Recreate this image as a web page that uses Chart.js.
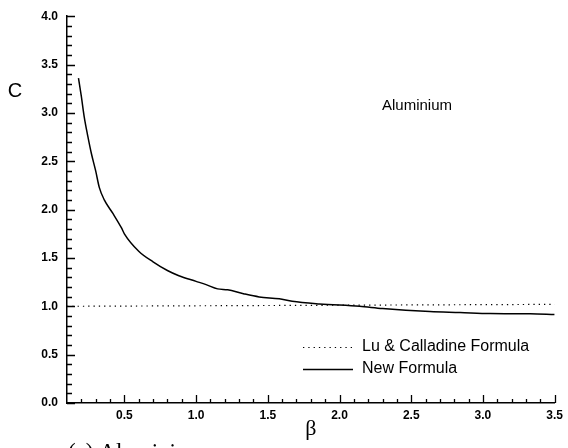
<!DOCTYPE html>
<html>
<head>
<meta charset="utf-8">
<script src="https://cdn.jsdelivr.net/npm/chart.js@4"></script>
<style>
  html, body { margin: 0; padding: 0; background: #fff; }
  #wrap { width: 568px; height: 448px; }
</style>
</head>
<body>
<div id="wrap"><canvas id="chart"></canvas></div>
<script>
// values
const beta = [0.18, 0.20, 0.22, 0.245, 0.27, 0.30, 0.325, 0.36, 0.42, 0.48, 0.50,
  0.60, 0.70, 0.80, 0.88, 1.0, 1.07, 1.15, 1.22, 1.33, 1.44, 1.58, 1.67, 1.86, 2.14,
  2.30, 2.63, 2.84, 3.05, 3.33, 3.5];
const newFormula = [3.36, 3.17, 2.96, 2.76, 2.58, 2.40, 2.23, 2.10, 1.96, 1.81, 1.75,
  1.57, 1.46, 1.37, 1.316, 1.258, 1.224, 1.18, 1.17, 1.13, 1.097, 1.077, 1.052, 1.025, 1.0,
  0.977, 0.946, 0.936, 0.925, 0.922, 0.915];
const luBeta = [0.1, 3.5];
const luCalladine = [1.0, 1.02];
const xTicks = [0.5, 1.0, 1.5, 2.0, 2.5, 3.0, 3.5];
const yTicks = [0.0, 0.5, 1.0, 1.5, 2.0, 2.5, 3.0, 3.5, 4.0];

const tickFont = { family: 'Liberation Sans', size: 12, weight: 'bold' };

// inward ticks, titles, note and legend
const decorations = {
  id: 'decorations',
  afterDraw(chart) {
    const { ctx, chartArea, scales: { x, y } } = chart;
    ctx.save();
    ctx.strokeStyle = '#000';
    ctx.lineWidth = 1.3;
    ctx.beginPath();
    for (let i = 0; i <= 40; i++) {
      const py = Math.round(y.getPixelForValue(i / 10)) + 0.5;
      const len = i % 5 === 0 ? 8 : 5;
      ctx.moveTo(chartArea.left, py);
      ctx.lineTo(chartArea.left + len, py);
    }
    for (let i = 2; i <= 35; i++) {
      const px = Math.round(x.getPixelForValue(i / 10)) + 0.5;
      const len = i % 5 === 0 ? 8 : 4;
      ctx.moveTo(px, chartArea.bottom);
      ctx.lineTo(px, chartArea.bottom - len);
    }
    ctx.stroke();

    ctx.fillStyle = '#000';
    ctx.textAlign = 'center';
    ctx.textBaseline = 'middle';
    ctx.font = '20px "Liberation Sans"';
    ctx.fillText('C', 15, y.getPixelForValue(3.22));
    ctx.font = '22px "Liberation Serif"';
    ctx.fillText('β', (chartArea.left + chartArea.right) / 2, 429);

    ctx.font = '15px "Liberation Sans"';
    ctx.fillText('Aluminium', x.getPixelForValue(2.54), y.getPixelForValue(3.07));

    // legend
    const ds = chart.data.datasets;
    ctx.textAlign = 'left';
    ctx.font = '16px "Liberation Sans"';
    const rows = [347, 369];
    ds.forEach((d, i) => {
      const ly = rows[i] + 0.5;
      ctx.save();
      ctx.lineWidth = d.borderWidth;
      ctx.setLineDash(d.borderDash || []);
      ctx.beginPath();
      ctx.moveTo(303, ly);
      ctx.lineTo(353, ly);
      ctx.stroke();
      ctx.restore();
      ctx.fillText(d.label, 362, rows[i]);
    });

    ctx.font = '23px "Liberation Serif"';
    ctx.textBaseline = 'alphabetic';
    ctx.fillText('(a) Aluminium', 68, 459);
    ctx.restore();
  }
};

new Chart(document.getElementById('chart'), {
  type: 'line',
  data: {
    datasets: [{
      label: 'Lu & Calladine Formula',
      data: luBeta.map((b, i) => ({ x: b, y: luCalladine[i] })),
      borderColor: '#000',
      borderWidth: 1.2,
      borderDash: [1.3, 4],
      pointRadius: 0,
      tension: 0
    }, {
      label: 'New Formula',
      data: beta.map((b, i) => ({ x: b, y: newFormula[i] })),
      borderColor: '#000',
      borderWidth: 1.5,
      pointRadius: 0,
      cubicInterpolationMode: 'monotone'
    }]
  },
  plugins: [decorations],
  options: {
    responsive: true,
    maintainAspectRatio: false,
    animation: false,
    layout: { padding: { top: 15, right: 11, left: 0, bottom: 0 } },
    plugins: {
      legend: { display: false },
      tooltip: { enabled: false }
    },
    scales: {
      x: {
        type: 'linear',
        min: 0.1,
        max: 3.5,
        afterBuildTicks: (s) => { s.ticks = xTicks.map((v) => ({ value: v })); },
        afterFit: (s) => { s.height = 45; },
        grid: { display: false, drawTicks: false },
        border: { display: true, color: '#000', width: 1.5 },
        ticks: {
          color: '#000',
          font: tickFont,
          padding: 5,
          maxRotation: 0,
          callback: (v) => v.toFixed(1)
        }
      },
      y: {
        type: 'linear',
        min: 0,
        max: 4,
        afterBuildTicks: (s) => { s.ticks = yTicks.map((v) => ({ value: v })); },
        afterFit: (s) => { s.width = 67; },
        grid: { display: false, drawTicks: false },
        border: { display: true, color: '#000', width: 1.5 },
        ticks: {
          color: '#000',
          font: tickFont,
          padding: 9,
          callback: (v) => v.toFixed(1)
        }
      }
    }
  }
});
</script>
</body>
</html>
